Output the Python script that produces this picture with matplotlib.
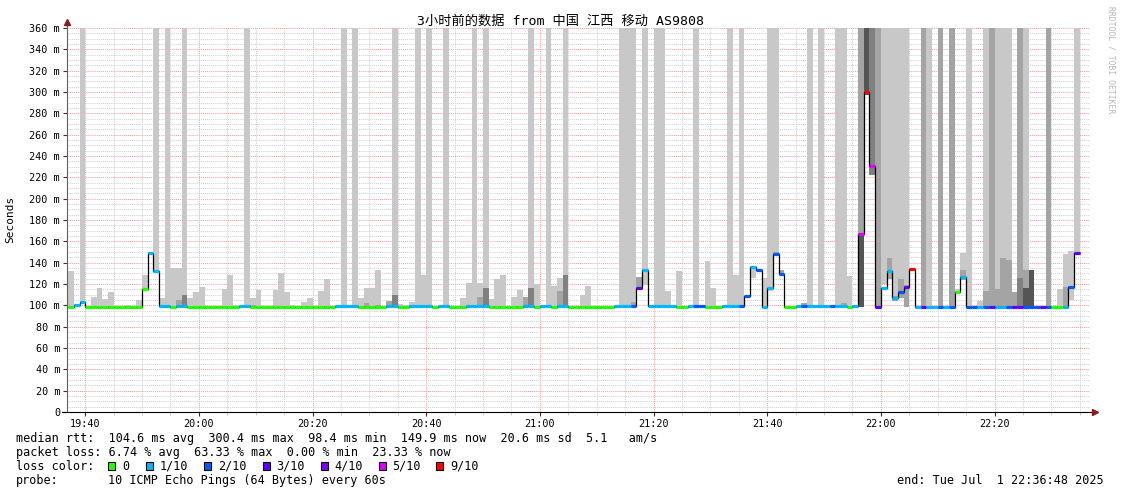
import matplotlib
matplotlib.use('Agg')
import matplotlib.pyplot as plt
from matplotlib.patches import Rectangle
from matplotlib.ticker import MultipleLocator, FuncFormatter

T = 400  # smoke reaching past the top of the graph

# one sample per minute, first sample starts 19:37 (minutes after 19:00)
start_min = 37

# median rtt in ms
med = [98.6, 100.6, 102.8, 98.6, 98.6, 98.6, 98.6, 98.6, 98.6, 98.6,
       98.6, 98.6, 98.6, 115, 148.8, 132, 99.2, 99.2, 98.6, 99.2,
       99.2, 98.6, 98.6, 98.6, 98.6, 98.4, 98.4, 98.6, 98.6, 98.4,
       99.2, 99.2, 98.6, 98.6, 98.6, 98.6, 98.6, 98.6, 98.6, 98.6,
       98.6, 98.6, 98.6, 98.6, 98.6, 98.6, 98.6, 99.2, 99.2, 99.2,
       99.2, 98.6, 98.6, 98.6, 98.6, 98.6, 99.2, 99.2, 98.6, 98.6,
       99.2, 99.2, 99.2, 99.2, 98.6, 99.2, 99.2, 98.6, 98.6, 98.6,
       99.2, 99.2, 99.2, 99.2, 98.6, 98.6, 98.6, 98.6, 98.6, 98.6,
       99.2, 99.2, 98.6, 99.2, 99.2, 98.6, 99.2, 99.2, 98.6, 98.6,
       98.6, 98.6, 98.6, 98.6, 98.6, 98.6, 99.2, 99.2, 99.2, 99.2,
       116, 133, 99.2, 99.2, 99.2, 99.2, 99.2, 98.6, 98.6, 99.2,
       99.2, 99.2, 98.6, 98.6, 98.6, 99.4, 99.4, 99.4, 99.2, 109,
       136, 133.4, 98.6, 116, 147.8, 129.4, 98.6, 98.6, 99.2, 99.2,
       99.2, 99.2, 99.2, 99.2, 99.2, 99.2, 99.2, 98.6, 99.2, 166.9,
       300.3, 230.6, 98.6, 116, 132.5, 106.6, 112.8, 117, 133.8, 98.8,
       98.8, 98.8, 98.8, 98.8, 98.8, 98.8, 112.8, 127, 98.8, 98.8,
       98.8, 98.8, 98.8, 98.8, 98.8, 98.8, 98.8, 98.8, 98.8, 98.8,
       98.8, 98.8, 98.8, 98.8, 98.8, 98.8, 117, 149.4]

# lost pings out of 10
loss = [0, 1, 1, 0, 0, 0, 0, 0, 0, 0,
        0, 0, 0, 0, 1, 1, 1, 1, 0, 1,
        1, 0, 0, 0, 0, 0, 0, 0, 0, 0,
        1, 1, 0, 0, 0, 0, 0, 0, 0, 0,
        0, 0, 0, 0, 0, 0, 0, 1, 1, 1,
        1, 0, 0, 0, 0, 0, 1, 1, 0, 0,
        1, 1, 1, 1, 0, 1, 1, 0, 0, 0,
        1, 1, 1, 1, 0, 0, 0, 0, 0, 0,
        1, 1, 0, 1, 1, 0, 1, 1, 0, 0,
        0, 0, 0, 0, 0, 0, 1, 1, 1, 2,
        3, 1, 1, 1, 1, 1, 1, 0, 0, 1,
        2, 2, 0, 0, 0, 1, 1, 1, 2, 2,
        1, 2, 1, 1, 2, 2, 0, 0, 1, 2,
        1, 1, 1, 1, 2, 1, 1, 0, 1, 5,
        9, 5, 3, 1, 1, 1, 2, 3, 9, 1,
        3, 1, 1, 2, 1, 2, 0, 1, 2, 2,
        1, 2, 3, 1, 1, 2, 3, 3, 2, 2,
        2, 3, 2, 0, 0, 1, 2, 3]

# top of the light smoke (max ping), 0 = no smoke
smoke_hi = [132, 101.5, T, 0, 108, 116, 106, 112.5, 0, 99.5,
            100.5, 0, 105, 128.5, 150, T, 107, T, 135.3, 135.3,
            T, 107, 112.5, 117, 0, 0, 99.5, 115, 128.5, 100,
            0, T, 107, 114.7, 0, 0, 114.7, 130, 112.5, 100,
            0, 103, 107, 0, 113.7, 124.7, 0, 0, T, 0,
            T, 107, 116, 116, 133, 0, 104, T, 101.5, 100,
            103, T, 128.5, T, 0, 0, T, 0, 0, 107,
            121, T, 120.6, T, 106, 124.7, 128.5, 0, 108, 114.4,
            108, T, 119.7, 0, T, 118.4, 126, T, 0, 0,
            109.4, 118.4, 0, 0, 0, 0, 0, T, T, T,
            0, T, 0, T, T, 113, 0, 132, 0, 0,
            T, 0, 141.8, 116, 0, 100.5, T, 128.5, T, 0,
            137, 0, 126, T, T, 0, 0, 0, 0, 0,
            T, 0, T, 0, 0, T, T, 127.5, 0, 0,
            0, 0, 0, T, T, T, T, T, 0, 0,
            0, T, 0, 0, 0, 0, 115, 149.4, T, 0,
            104.4, T, 0, T, T, T, 0, 0, T, 0,
            0, 0, 0, 0, 115, 148, 151, T]

# smoke bottom where it is not the median itself
smoke_lo = {13: 115, 14: 148, 15: 131, 100: 116, 101: 119, 120: 126,
            123: 113, 124: 146, 125: 128, 139: 98.6, 140: 297, 141: 222,
            142: 98.6, 143: 120, 144: 125, 145: 104, 146: 107, 147: 98.8,
            156: 112, 157: 124, 176: 105, 177: 149}

# inner (darker) smoke bands: top in ms
mid_hi = {19: 105, 32: 100.5, 52: 102, 54: 100.5, 56: 104, 72: 108, 80: 108,
          86: 113.7, 99: 103.5, 100: 126.3, 124: 150, 125: 133, 129: 102,
          136: 102, 139: T, 142: T, 144: 144, 145: 109, 146: 125, 147: 119,
          150: T, 153: T, 155: T, 157: 133, 161: 113.7, 162: T, 163: 115,
          164: 144.4, 165: 142.5, 166: 112.8, 167: T, 168: 133, 172: T,
          175: 117.5}
dark_hi = {20: 110, 57: 110, 73: 116.5, 81: 116.5, 87: 128.5, 141: T, 167: 126}
darkest_hi = {139: 166, 140: T, 168: 116, 169: 133}

loss_colors = {0: '#26ff00', 1: '#00b8ff', 2: '#0059ff', 3: '#5e00ff',
               4: '#7e00ff', 5: '#dd00ff', 9: '#ff0000'}
legend_labels = ['0', '1/10', '2/10', '3/10', '4/10', '5/10', '9/10']
legend_keys = [0, 1, 2, 3, 4, 5, 9]

mono = 'DejaVu Sans Mono'
plt.rcParams['font.family'] = [mono, 'Noto Sans CJK SC']

fig = plt.figure(figsize=(11.21, 4.94), dpi=100)
ax = fig.add_axes([67 / 1121, 82 / 494, 1023 / 1121, 384 / 494])

n = len(med)
left = [start_min + i for i in range(n)]
lo = [smoke_lo.get(i, med[i]) for i in range(n)]


def draw_layer(tops, color):
    xs, hs, bs = [], [], []
    for i in range(n):
        top = tops[i] if isinstance(tops, list) else tops.get(i, 0)
        if top > lo[i]:
            xs.append(left[i])
            hs.append(top - lo[i])
            bs.append(lo[i])
    ax.bar(xs, hs, bottom=bs, width=1, align='edge', color=color,
           linewidth=0, zorder=1)


draw_layer(smoke_hi, '#c8c8c8')
draw_layer(mid_hi, '#a4a4a4')
draw_layer(dark_hi, '#808080')
draw_layer(darkest_hi, '#555555')

# median line: black steps and loss coloured segments
edges = left + [left[-1] + 1]
ax.stairs(med, edges, baseline=None, color='black', lw=0.9, zorder=3)
ax.hlines(med, left, edges[1:], colors=[loss_colors[l] for l in loss],
          lw=2.3, zorder=4, capstyle='butt')

ax.set_xlim(36.8, 216.8)
ax.set_ylim(0, 360)

ax.xaxis.set_major_locator(MultipleLocator(20))
ax.xaxis.set_minor_locator(MultipleLocator(5))
ax.yaxis.set_major_locator(MultipleLocator(20))
ax.yaxis.set_minor_locator(MultipleLocator(5))
ax.xaxis.set_major_formatter(FuncFormatter(
    lambda v, p: '%d:%02d' % (19 + int(v) // 60, int(v) % 60)))
ax.yaxis.set_major_formatter(FuncFormatter(
    lambda v, p: '0' if v == 0 else '%d m' % v))

ax.set_axisbelow(True)
ax.grid(which='minor', color='#d2d2d2', lw=0.75, ls=(0, (1, 1)))
ax.grid(which='major', color='#ffa0a0', lw=0.75, ls=(0, (1, 1)))

ax.tick_params(which='major', length=3, width=0.8, labelsize=7.3, pad=2,
               colors='#333333', labelcolor='black')
ax.tick_params(which='minor', length=2, width=0.6, colors='#bbbbbb')
ax.tick_params(axis='y', which='minor', length=0)
for lab in ax.get_xticklabels() + ax.get_yticklabels():
    lab.set_family(mono)

for s in ['top', 'right']:
    ax.spines[s].set_visible(False)
ax.spines['left'].set_color('#606060')
ax.spines['bottom'].set_color('black')
ax.spines['left'].set_bounds(0, 365)
ax.spines['bottom'].set_bounds(36.0, 217.5)

# axis arrows
ax.plot([0], [1.015], marker='^', color='#8b1a1a', ms=4.5, clip_on=False,
        transform=ax.transAxes, zorder=6)
ax.plot([1.005], [0], marker='>', color='#8b1a1a', ms=4.5, clip_on=False,
        transform=ax.transAxes, zorder=6)

fig.text(0.5, 1 - 21 / 494, '3小时前的数据 from 中国 江西 移动 AS9808',
         ha='center', va='center', size=9.5,
         family=[mono, 'Noto Sans CJK SC'])
fig.text(10 / 1121, 1 - 219 / 494, 'Seconds', rotation=90, ha='center',
         va='center', size=8, family=mono)
fig.text(1111 / 1121, 1 - 60 / 494, 'RRDTOOL / TOBI OETIKER', rotation=270,
         ha='center', va='center', size=5.8, color='#b8b8b8', family=mono)

# legend block
def line_text(x, y, s, **kw):
    fig.text(x / 1121, 1 - y / 494, s, ha='left', va='center', size=8.5,
             family=mono, **kw)


line_text(16, 438, 'median rtt:  104.6 ms avg  300.4 ms max  98.4 ms min  '
          '149.9 ms now  20.6 ms sd  5.1   am/s')
line_text(16, 452, 'packet loss: 6.74 % avg  63.33 % max  0.00 % min  '
          '23.33 % now')
line_text(16, 466, 'loss color:')
sq_x = [108, 145.5, 204, 262.5, 320.5, 378.5, 436]
for x, key, lab in zip(sq_x, legend_keys, legend_labels):
    fig.add_artist(Rectangle((x / 1121, 1 - 470 / 494), 7 / 1121, 8 / 494,
                             transform=fig.transFigure,
                             facecolor=loss_colors[key], edgecolor='black',
                             lw=0.8))
    line_text(x + 14, 466, lab)
line_text(16, 480, 'probe:')
line_text(108, 480, '10 ICMP Echo Pings (64 Bytes) every 60s')
fig.text(1104 / 1121, 1 - 480 / 494, 'end: Tue Jul  1 22:36:48 2025',
         ha='right', va='center', size=8.5, family=mono)

fig.savefig('out.png', dpi=100)
